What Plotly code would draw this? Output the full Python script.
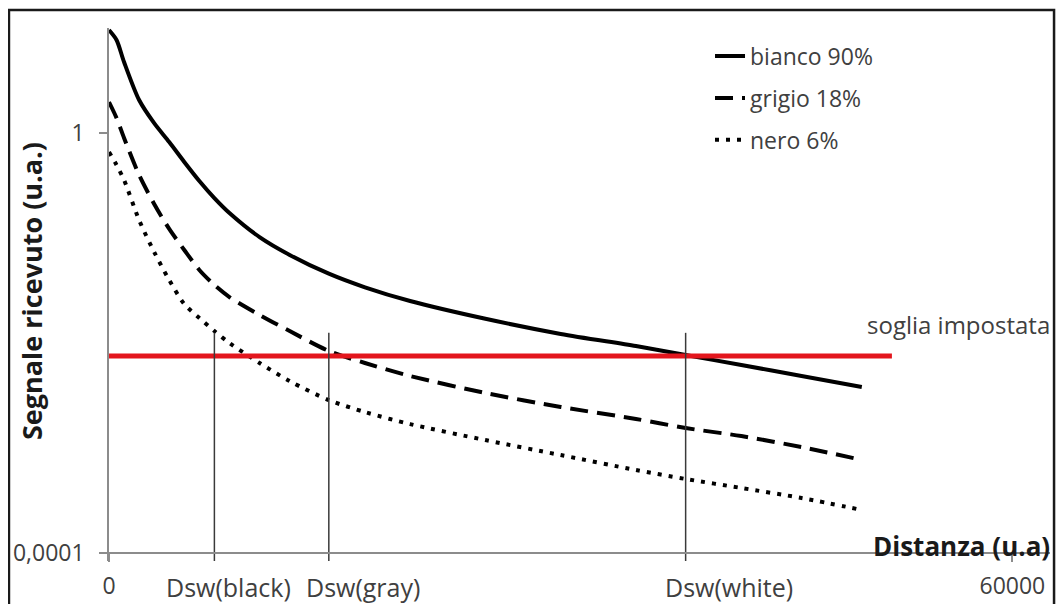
import plotly.graph_objects as go

# ---- data ----
distance = [0, 500, 1000, 2000, 3000, 4000, 5000, 6000, 7000, 8000, 10000, 12000,
            14600, 17000, 20000, 25000, 30000, 35000, 38300, 42000, 46000, 50000]
bianco = [9.57, 7.69, 4.74, 2.06, 1.24, 0.82, 0.53, 0.349, 0.240, 0.173, 0.102, 0.069,
          0.0457, 0.0339, 0.0251, 0.0170, 0.0122, 0.00935, 0.00769, 0.00617, 0.00485, 0.00381]
grigio = [1.97, 1.39, 0.896, 0.398, 0.211, 0.122, 0.0769, 0.0496, 0.0357, 0.0274, 0.0185, 0.0130,
          0.00839, 0.00645, 0.00485, 0.00334, 0.00246, 0.00189, 0.00155, 0.00130, 0.00102, 0.00077]
nero = [0.659, 0.496, 0.357, 0.148, 0.0736, 0.0398, 0.0235, 0.0173, 0.0130, 0.0100, 0.00645, 0.00434,
        0.00286, 0.00220, 0.00169, 0.00119, 0.000857, 0.000617, 0.000507, 0.000416, 0.000334, 0.000257]
series_names = ["bianco 90%", "grigio 18%", "nero 6%"]

threshold_label = "soglia impostata"
threshold_x = [0, 52000]
threshold_y = [0.0075, 0.0075]

dsw_labels = ["Dsw(black)", "Dsw(gray)", "Dsw(white)"]
dsw_x = [7000, 14600, 38300]
dsw_top = 0.0125

y_tickvals = [0.0001, 1]
y_ticktext = ["0,0001", "1"]
x_tickvals = [0, 60000]
x_ticktext = ["0", "60000"]

x_title = "Distanza (u.a)"
y_title = "Segnale ricevuto (u.a.)"

# ---- styling ----
FONT = "Open Sans"
TXT = "#404040"
AX = "#8c8c8c"
Y_LOG_RANGE = [-4.0762, 1.0]
X_RANGE = [0, 62500]
y_bottom = 10 ** Y_LOG_RANGE[0]

fig = go.Figure()

styles = [dict(color="black", width=4),
          dict(color="black", width=4, dash="18px,9px"),
          dict(color="black", width=4, dash="4px,7px")]
for name, ys, st in zip(series_names, [bianco, grigio, nero], styles):
    fig.add_trace(go.Scatter(x=distance, y=ys, mode="lines", name=name,
                             legendgroup=name, line=dict(shape="spline", smoothing=0.8, **st)))

fig.add_trace(go.Scatter(x=threshold_x, y=threshold_y, mode="lines", showlegend=False,
                         line=dict(color="#e3161d", width=5)))

for dx in dsw_x:
    fig.add_trace(go.Scatter(x=[dx, dx], y=[y_bottom, dsw_top], mode="lines", showlegend=False,
                             line=dict(color="#3a3a3a", width=1.5)))

annotations = []
for lab, dx, sh in zip(dsw_labels, dsw_x, [14, 34, 43]):
    annotations.append(dict(x=dx, y=-0.0488, xref="x", yref="paper", text=lab, showarrow=False,
                            xshift=sh, xanchor="center", yanchor="middle",
                            font=dict(family=FONT, size=25, color=TXT)))
annotations.append(dict(x=0.8034, y=0.4428, xref="paper", yref="paper", text=threshold_label,
                        showarrow=False, xanchor="left", yanchor="middle",
                        font=dict(family=FONT, size=24, color=TXT)))
annotations.append(dict(x=1.0021, y=0.028, xref="paper", yref="paper", text="<b>" + x_title + "</b>",
                        showarrow=False, xanchor="right", yanchor="middle",
                        font=dict(family=FONT, size=26, color="#1a1a1a")))
annotations.append(dict(x=-0.0818, y=0.5066, xref="paper", yref="paper", text="<b>" + y_title + "</b>",
                        showarrow=False, textangle=-90, xanchor="center", yanchor="middle",
                        font=dict(family=FONT, size=27, color="#1a1a1a")))

fig.update_layout(
    # the page body adds an 8px margin; the figure is sized so the page fits the window exactly
    width=1048, height=596,
    margin=dict(l=101, r=6, t=20, b=43, autoexpand=False),
    paper_bgcolor="white", plot_bgcolor="white",
    font=dict(family=FONT, size=23, color=TXT),
    showlegend=True,
    legend=dict(x=0.6387, y=0.9876, xanchor="left", yanchor="top",
                font=dict(family=FONT, size=23, color=TXT),
                tracegroupgap=9, bgcolor="rgba(0,0,0,0)"),
    annotations=annotations,
    shapes=[dict(type="rect", xref="paper", yref="paper", x0=-0.1063, x1=1.0043,
                 y0=-0.2, y1=1.0338, line=dict(color="#1a1a1a", width=2.5), layer="above")],
    xaxis=dict(range=X_RANGE, showgrid=False, zeroline=False, showline=True, automargin=False,
               linecolor=AX, linewidth=1.5, ticks="outside", ticklen=8, tickcolor=AX,
               tickwidth=1.5, tickvals=x_tickvals, ticktext=x_ticktext,
               anchor="free", position=0.0762 / 5.0762, ticklabelstandoff=5,
               tickfont=dict(family=FONT, size=23, color=TXT)),
    yaxis=dict(type="log", range=Y_LOG_RANGE, showgrid=False, zeroline=False, showline=True,
               automargin=False,
               linecolor=AX, linewidth=1.5, ticks="outside", ticklen=8, tickcolor=AX,
               tickwidth=1.5, tickvals=y_tickvals, ticktext=y_ticktext, ticklabelstandoff=10,
               tickfont=dict(family=FONT, size=23, color=TXT)),
)

fig.write_html("out.html")
